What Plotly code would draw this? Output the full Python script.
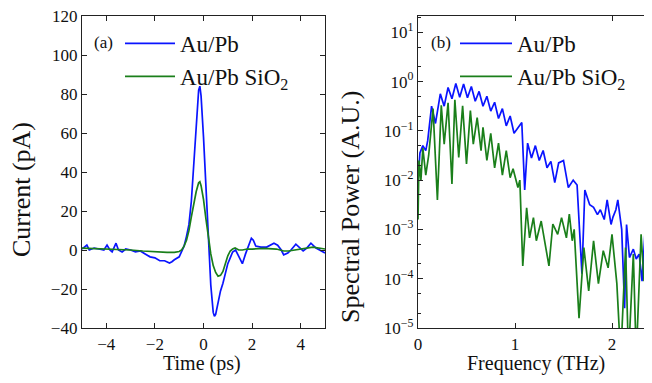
import plotly.graph_objects as go

# ---------------- Panel (a): time-domain current ----------------
time_blue = [-5.0, -4.8, -4.7, -4.5, -4.3, -4.1, -3.97, -3.85, -3.76, -3.6, -3.5, -3.35, -3.2,
             -3.0, -2.8, -2.6, -2.4, -2.2, -2.0, -1.8, -1.6, -1.4, -1.3, -1.2, -1.0, -0.9,
             -0.8, -0.7, -0.6, -0.5, -0.4, -0.3, -0.2, -0.15, -0.1, 0.0, 0.1, 0.2, 0.3, 0.4,
             0.45, 0.5, 0.6, 0.7, 0.8, 0.9, 1.0, 1.1, 1.2, 1.32, 1.45, 1.6, 1.73, 1.85, 1.97,
             2.05, 2.15, 2.36, 2.6, 2.9, 3.05, 3.2, 3.3, 3.47, 3.6, 3.8, 3.95, 4.1, 4.25, 4.42,
             4.63, 4.8, 4.9, 5.0]
current_blue = [0.5, 2.5, 0, 1, 0.5, 0, 2.5, 0, -1, 3.5, 0, -1, 0.5,
                0, -1, -0.5, -2, -3.5, -4, -5.5, -5.5, -6.7, -6, -5, -3.5, -1,
                2, 7, 13, 25, 45, 68, 82, 84, 79, 58, 30, 3, -18, -32,
                -34, -33, -27, -21, -17, -12, -7, -4, -1, 0, -3, -7, -2, 2, 6,
                5, 2, 1.5, 1.5, 3.5, 2.5, 0, -2.5, -1.5, 0, 3, 1, -0.5, 1, 3.5,
                1, 0, -1, -1.5]

time_green = [-5.0, -4.5, -4.0, -3.5, -3.0, -2.5, -2.0, -1.5, -1.2, -1.0, -0.9, -0.8, -0.7,
              -0.6, -0.5, -0.4, -0.3, -0.2, -0.15, -0.1, 0.0, 0.1, 0.2, 0.3, 0.4, 0.5, 0.6,
              0.7, 0.8, 0.9, 1.0, 1.1, 1.2, 1.3, 1.45, 1.6, 1.8, 2.0, 2.5, 3.0, 3.3, 3.5,
              4.0, 4.5, 5.0]
current_green = [1, 0.8, 0.5, 0.3, 0, -0.5, -1, -1.2, -1.2, -0.8, 0, 2, 5,
                 10, 17, 24, 30, 34.5, 35, 33, 26, 16, 6, -2, -8, -11.5, -13.4,
                 -13, -11, -7, -3, -0.5, 0.5, 1, 0, 0, 0.5, 0.5, 0.8, 0.5, -0.5, -0.5,
                 0.5, 1.5, 0.5]

# ---------------- Panel (b): spectral power, read as log10 of A.U. ----------------
freq_blue = [0.00, 0.02, 0.05, 0.08, 0.10, 0.14, 0.18, 0.23, 0.27, 0.31, 0.35, 0.39, 0.43,
             0.47, 0.51, 0.55, 0.59, 0.63, 0.67, 0.71, 0.75, 0.79, 0.83, 0.87, 0.91, 0.95,
             0.99, 1.03, 1.07, 1.10, 1.13, 1.17, 1.21, 1.25, 1.29, 1.33, 1.37, 1.41, 1.45,
             1.50, 1.55, 1.60, 1.64, 1.69, 1.72, 1.77, 1.81, 1.85, 1.88, 1.92, 1.95, 1.99,
             2.01, 2.04, 2.06, 2.10, 2.13, 2.15, 2.18, 2.22, 2.25, 2.28, 2.31, 2.34, 2.37,
             2.40, 2.43]
log_power_blue = [-2.0, -1.45, -1.3, -1.4, -1.2, -0.5, -0.85, -0.25, -0.5, -0.12, -0.35, -0.04, -0.32,
                  -0.05, -0.33, -0.1, -0.4, -0.2, -0.5, -0.3, -0.6, -0.42, -0.75, -0.55, -0.9, -0.7,
                  -1.05, -0.95, -0.83, -2.2, -1.25, -1.55, -1.3, -1.6, -1.4, -1.75, -1.62, -2.05, -1.65,
                  -1.6, -2.15, -2.0, -2.1, -3.9, -2.2, -2.5, -2.55, -2.7, -2.6, -2.8, -2.4, -2.9,
                  -2.75, -2.6, -2.4, -3.0, -4.6, -2.9, -3.57, -3.4, -3.6, -3.5, -4.05, -3.07, -3.3,
                  -3.0, -3.2]

freq_green = [0.00, 0.01, 0.03, 0.05, 0.08, 0.11, 0.155, 0.20, 0.24, 0.27, 0.31, 0.35, 0.38,
              0.42, 0.46, 0.50, 0.54, 0.57, 0.61, 0.65, 0.67, 0.71, 0.75, 0.79, 0.83, 0.87,
              0.91, 0.95, 0.98, 1.03, 1.05, 1.08, 1.12, 1.15, 1.19, 1.22, 1.27, 1.32, 1.35,
              1.39, 1.44, 1.48, 1.53, 1.56, 1.59, 1.61, 1.66, 1.71, 1.76, 1.81, 1.86, 1.91,
              1.96, 2.00, 2.05, 2.09, 2.14, 2.17, 2.22, 2.25, 2.30, 2.33, 2.36, 2.40, 2.43]
log_power_green = [-2.8, -1.6, -2.0, -1.35, -1.9, -1.5, -0.55, -2.4, -0.48, -1.27, -0.43, -2.08, -0.37,
                   -1.54, -0.49, -1.67, -0.59, -1.27, -0.73, -1.4, -0.93, -1.6, -1.05, -1.75, -1.25, -1.9,
                   -1.4, -1.95, -1.77, -2.15, -2.0, -3.74, -2.56, -3.17, -2.76, -3.23, -2.83, -3.43, -3.74,
                   -2.89, -3.1, -2.76, -3.17, -2.69, -3.23, -3.0, -4.8, -3.37, -4.25, -3.23, -4.1, -3.43,
                   -3.78, -3.1, -4.1, -5.6, -3.37, -5.6, -3.5, -5.6, -3.1, -4.05, -3.2, -3.6, -3.4]

power_blue = [10 ** v for v in log_power_blue]
power_green = [10 ** v for v in log_power_green]

series_names = ["Au/Pb", "Au/Pb SiO<sub>2</sub>"]
colors = ["#0a14ff", "#1a7f1a"]
y_ticks_a = [-40, -20, 0, 20, 40, 60, 80, 100, 120]
x_ticks_a = [-4, -2, 0, 2, 4]
x_ticks_b = [0, 1, 2]
y_tickvals_b = [1e-5, 1e-4, 1e-3, 1e-2, 1e-1, 1e0, 1e1]
y_ticktext_b = ["10<sup>\u22125</sup>", "10<sup>\u22124</sup>", "10<sup>\u22123</sup>",
                "10<sup>\u22122</sup>", "10<sup>\u22121</sup>", "10<sup>0</sup>", "10<sup>1</sup>"]

FONT = "Liberation Serif"
# the page body adds an 8px offset; positions below are in reference-image pixels
OFF = 8
W, H = 652 - OFF, 383 - OFF

def px(x):
    return (x - OFF) / W

def py(y):
    return 1 - (y - OFF) / H

fig = go.Figure()
fig.add_trace(go.Scatter(x=time_blue, y=current_blue, mode="lines", name=series_names[0],
                         line=dict(color=colors[0], width=1.7), xaxis="x", yaxis="y", legend="legend"))
fig.add_trace(go.Scatter(x=time_green, y=current_green, mode="lines", name=series_names[1],
                         line=dict(color=colors[1], width=1.7), xaxis="x", yaxis="y", legend="legend"))
fig.add_trace(go.Scatter(x=freq_blue, y=power_blue, mode="lines", name=series_names[0],
                         line=dict(color=colors[0], width=1.7), xaxis="x2", yaxis="y2", legend="legend2"))
fig.add_trace(go.Scatter(x=freq_green, y=power_green, mode="lines", name=series_names[1],
                         line=dict(color=colors[1], width=1.7), xaxis="x2", yaxis="y2", legend="legend2"))

axis_common = dict(showline=True, linecolor="#222", linewidth=1.3, ticks="inside", ticklen=5,
                   tickcolor="#222", tickwidth=1, showgrid=False, zeroline=False, automargin=False,
                   ticklabeloverflow="allow",
                   tickfont=dict(family=FONT, size=17, color="#111"))

ydom = [py(328), py(16)]
fig.update_layout(
    width=W, height=H, margin=dict(l=0, r=0, t=0, b=0, autoexpand=False),
    paper_bgcolor="white", plot_bgcolor="white", showlegend=True,
    xaxis=dict(domain=[px(82), px(325)], range=[-5, 5], tickvals=x_ticks_a, mirror="allticks",
               anchor="y", **axis_common),
    yaxis=dict(domain=ydom, range=[-40, 120], tickvals=y_ticks_a, mirror="allticks",
               anchor="x", **axis_common),
    xaxis2=dict(domain=[px(418), 1.0], range=[0, (652 - 418) / 97.0], tickvals=x_ticks_b,
                mirror="allticks", anchor="y2", **axis_common),
    yaxis2=dict(domain=ydom, type="log", range=[-5, 1.33], tickvals=y_tickvals_b,
                ticktext=y_ticktext_b, anchor="x2",
                minor=dict(ticks="inside", ticklen=3, tickcolor="#222"),
                **axis_common),
    legend=dict(x=px(120), y=py(22), xanchor="left", yanchor="top", bgcolor="rgba(0,0,0,0)",
                font=dict(family=FONT, size=23, color="#111"), itemwidth=50,
                tracegroupgap=0),
    legend2=dict(x=px(455), y=py(22), xanchor="left", yanchor="top", bgcolor="rgba(0,0,0,0)",
                 font=dict(family=FONT, size=23, color="#111"), itemwidth=52,
                 tracegroupgap=0),
)

annotations = [
    dict(text="(a)", x=px(92), y=py(42), xanchor="left", yanchor="middle", font=dict(size=17)),
    dict(text="(b)", x=px(429), y=py(42), xanchor="left", yanchor="middle", font=dict(size=17)),
    dict(text="Time (ps)", x=px(202), y=py(363), xanchor="center", yanchor="middle", font=dict(size=20)),
    dict(text="Frequency (THz)", x=px(536), y=py(363), xanchor="center", yanchor="middle", font=dict(size=20)),
    dict(text="Current (pA)", x=px(21), y=py(190), xanchor="center", yanchor="middle", textangle=-90,
         font=dict(size=26)),
    dict(text="Spectral Power (A.U.)", x=px(350), y=py(206), xanchor="center", yanchor="middle",
         textangle=-90, font=dict(size=26)),
]
for a in annotations:
    a.update(xref="paper", yref="paper", showarrow=False)
    a["font"].update(family=FONT, color="#111")
fig.update_layout(annotations=annotations)

fig.write_html("out.html")
